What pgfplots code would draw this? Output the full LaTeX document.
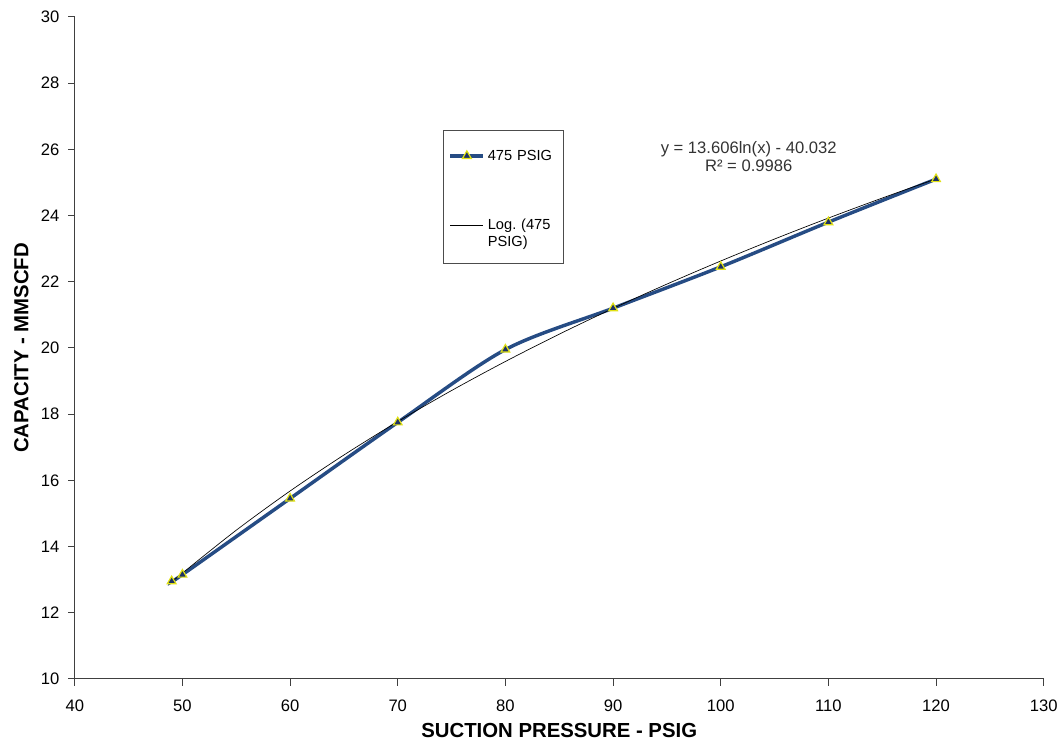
\documentclass[border=0pt]{standalone}
\usepackage{pgfplots}
\pgfplotsset{compat=1.18}
\usepackage{fontspec}
\setmainfont{Liberation Sans}
\usetikzlibrary{calc}

\definecolor{serieblue}{RGB}{38,76,132}
\definecolor{marknavy}{RGB}{30,50,100}
\definecolor{markyellow}{RGB}{225,225,20}

\begin{document}
\begin{tikzpicture}
\begin{axis}[
    name=ax,
    scale only axis,
    width=729pt, height=498pt,
    xmin=40, xmax=130, ymin=10, ymax=30,
    xtick={40,50,...,130}, ytick={10,12,...,30},
    axis x line=bottom, axis y line=left,
    axis line style={-, black!75, line width=0.8pt},
    tick style={black!75, line width=0.8pt},
    tick align=outside, major tick length=5pt,
    /pgf/number format/assume math mode=true,
    ticklabel style={font=\fontsize{12.5}{14}\selectfont},
    yticklabel style={xshift=-3pt},
    xticklabel style={yshift=-7pt},
    xlabel={\bfseries SUCTION PRESSURE - PSIG},
    ylabel={\bfseries CAPACITY - MMSCFD},
    label style={font=\fontsize{15.3}{17}\selectfont},
    xlabel style={yshift=-2.5pt},
    ylabel style={yshift=2.5pt},
    legend style={at={(rel axis cs:0.3786,0.8298)}, anchor=north west,
        draw=none, fill=none, font=\fontsize{11}{12.5}\selectfont,
        cells={align=left, anchor=west, text width=50pt}, row sep=38.75pt,
        inner xsep=5pt, inner ysep=13pt},
    legend image code/.code={
        \draw[#1] (0cm,0cm) -- (25pt,0cm);
        \draw[#1, only marks] plot coordinates {(12.5pt,0cm)};
    },
]
% legend frame
\draw[black!70, line width=0.4pt] (rel axis cs:0.3807,0.8283) rectangle (rel axis cs:0.5041,0.6280);
\addplot[serieblue, line width=2.6pt, smooth,
    mark=triangle*, mark size=3.8pt,
    mark options={fill=marknavy, draw=markyellow, line width=0.9pt}]
coordinates {
    (49,12.95) (50,13.15) (60,15.45) (70,17.75) (80,19.95)
    (90,21.2) (100,22.45) (110,23.8) (120,25.1)
};
\addlegendentry{475 PSIG}
\addplot[black, line width=0.5pt, smooth, no marks]
coordinates {
    (49,12.920) (50,13.196) (55,14.492) (60,15.676) (65,16.764)
    (70,17.773) (75,18.712) (80,19.590) (85,20.415) (90,21.193)
    (95,21.928) (100,22.626) (105,23.290) (110,23.923) (115,24.528)
    (120,25.107)
};
\addlegendentry{Log.\ (475\\PSIG)}
\node[align=center, font=\fontsize{12.5}{13.5}\selectfont, text=black!80]
    at (axis cs:102.6,25.78) {y = 13.606ln(x) - 40.032\\R² = 0.9986};
\end{axis}
\path ($(ax.south west)+(-56.25pt,-48.75pt)$) rectangle ($(ax.north east)+(11.25pt,12.75pt)$);
\end{tikzpicture}
\end{document}
